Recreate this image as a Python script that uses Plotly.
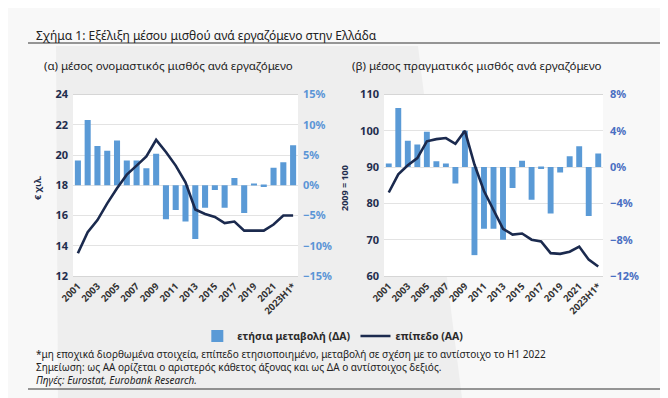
import plotly.graph_objects as go

W, H = 668, 398

categories = ["2001", "2002", "2003", "2004", "2005", "2006", "2007", "2008", "2009", "2010",
              "2011", "2012", "2013", "2014", "2015", "2016", "2017", "2018", "2019", "2020",
              "2021", "2022", "2023H1*"]
tick_labels = ["2001", "2003", "2005", "2007", "2009", "2011", "2013", "2015", "2017", "2019",
               "2021", "2023H1*"]

# (a) nominal wage: level (thousand EUR, left axis) and annual change (%, right axis)
nominal_level = [13.5, 14.9, 15.7, 16.8, 17.8, 18.7, 19.3, 19.9, 21.0, 20.2, 19.3, 18.2,
                 16.4, 16.1, 15.9, 15.5, 15.6, 15.0, 15.0, 15.0, 15.4, 16.0, 16.0]
nominal_change = [4.1, 10.8, 6.5, 5.7, 7.4, 4.1, 4.1, 2.8, 5.2, -5.6, -4.1, -6.0,
                  -8.9, -3.7, -0.8, -3.7, 1.2, -4.6, 0.3, -0.3, 2.9, 3.8, 6.6]

# (b) real wage: index 2009=100 (left axis) and annual change (%, right axis)
real_level = [83.0, 88.0, 90.5, 92.5, 97.1, 97.7, 98.0, 96.4, 100.0, 90.7, 83.4, 78.4,
              73.0, 71.4, 71.7, 70.0, 69.5, 66.3, 66.1, 66.7, 68.1, 64.5, 62.6]
real_change = [0.4, 6.5, 2.9, 2.5, 3.9, 0.65, 0.4, -1.8, 4.0, -9.7, -6.8, -6.8,
               -8.0, -2.3, 0.7, -3.6, -0.2, -5.1, -0.6, 1.2, 2.3, -5.4, 1.5]

BAR = "#5a9ad6"
LINE = "#1b2a4e"
NAVY = "#1f2d4d"
FONT = "Noto Sans"

def px(x):
    return x / W

def py(y):
    return 1 - y / H

# plot-area domains (pixels)
L_X = (65, 290)
R_X = (376, 595)
Y_DOM = (86.5, 268)

fig = go.Figure()

fig.add_trace(go.Bar(x=categories, y=nominal_change, xaxis="x", yaxis="y",
                     marker=dict(color=BAR, line=dict(width=0)),
                     name="ετήσια μεταβολή (ΔΑ)", showlegend=True))
fig.add_trace(go.Scatter(x=categories, y=nominal_level, xaxis="x", yaxis="y2",
                         mode="lines", line=dict(color=LINE, width=2.6),
                         name="επίπεδο (ΑΑ)", showlegend=True))
fig.add_trace(go.Bar(x=categories, y=real_change, xaxis="x2", yaxis="y3",
                     marker=dict(color=BAR, line=dict(width=0)),
                     name="ετήσια μεταβολή (ΔΑ)", showlegend=False))
fig.add_trace(go.Scatter(x=categories, y=real_level, xaxis="x2", yaxis="y4",
                         mode="lines", line=dict(color=LINE, width=2.6),
                         name="επίπεδο (ΑΑ)", showlegend=False))

xcommon = dict(type="category", categoryorder="array", categoryarray=categories,
               range=[-0.5, len(categories) - 0.5],
               tickmode="array", tickvals=tick_labels, ticktext=tick_labels,
               tickangle=-45, tickfont=dict(family=FONT, size=9.5, color="#333333", weight="bold"),
               showline=True, linecolor="#d6d6d6", linewidth=1, mirror=True,
               ticks="", showgrid=False, zeroline=False, fixedrange=True, automargin=False)

yd = [py(Y_DOM[1]), py(Y_DOM[0])]

fig.update_layout(
    width=W, height=H,
    margin=dict(l=0, r=0, t=0, b=0, pad=0, autoexpand=False),
    paper_bgcolor="#f8f8f8",
    plot_bgcolor="rgba(0,0,0,0)",
    font=dict(family=FONT, color=NAVY),
    bargap=0.38,
    showlegend=True,
    legend=dict(orientation="h", x=0.487, xanchor="center", y=py(328), yanchor="middle",
                font=dict(family=FONT, size=10.5, color="#2a2a2a", weight="bold"),
                bgcolor="rgba(0,0,0,0)", itemwidth=30, tracegroupgap=0),
    xaxis=dict(domain=[px(L_X[0]), px(L_X[1])], anchor="y", **xcommon),
    xaxis2=dict(domain=[px(R_X[0]), px(R_X[1])], anchor="y3", **xcommon),
    yaxis=dict(domain=yd, anchor="x", side="right", range=[-15, 15], dtick=5,
               tickmode="linear", tick0=-15, ticksuffix="%", showgrid=False, zeroline=False,
               tickfont=dict(family=FONT, size=11, color="#5b95d6", weight="bold"),
               ticklabelstandoff=4, fixedrange=True, automargin=False),
    yaxis2=dict(overlaying="y", anchor="x", side="left", range=[12, 24], dtick=2,
                tickmode="linear", tick0=12, showgrid=True, gridcolor="#e3e3e3",
                gridwidth=1, zeroline=False,
                tickfont=dict(family=FONT, size=11, color=NAVY, weight="bold"),
                ticklabelstandoff=4, fixedrange=True, automargin=False),
    yaxis3=dict(domain=yd, anchor="x2", side="right", range=[-12, 8], dtick=4,
                tickmode="linear", tick0=-12, ticksuffix="%", showgrid=False, zeroline=False,
                tickfont=dict(family=FONT, size=11, color="#4a6fc2", weight="bold"),
                ticklabelstandoff=6, fixedrange=True, automargin=False),
    yaxis4=dict(overlaying="y3", anchor="x2", side="left", range=[60, 110], dtick=10,
                tickmode="linear", tick0=60, showgrid=True, gridcolor="#e3e3e3",
                gridwidth=1, zeroline=False,
                tickfont=dict(family=FONT, size=11, color=NAVY, weight="bold"),
                ticklabelstandoff=4, fixedrange=True, automargin=False),
)

shapes = [
    # grey background band
    dict(type="path", xref="paper", yref="paper", layer="below", line=dict(width=0),
         fillcolor="#eeeeee",
         path=f"M {px(48)},{py(38)} L {px(410)},{py(38)} L {px(455)},{py(398)} L {px(50)},{py(398)} Z"),
    # white plot areas
    dict(type="rect", xref="paper", yref="paper", layer="below", line=dict(width=0),
         fillcolor="white", x0=px(L_X[0]), x1=px(L_X[1]), y0=yd[0], y1=yd[1]),
    dict(type="rect", xref="paper", yref="paper", layer="below", line=dict(width=0),
         fillcolor="white", x0=px(R_X[0]), x1=px(R_X[1]), y0=yd[0], y1=yd[1]),
    # title underline and bottom rule
    dict(type="line", xref="paper", yref="paper", x0=px(20), x1=1, y0=py(35), y1=py(35),
         line=dict(color="#333333", width=1)),
    dict(type="line", xref="paper", yref="paper", x0=px(20), x1=1, y0=py(381), y1=py(381),
         line=dict(color="#333333", width=1)),
]
fig.update_layout(shapes=shapes)

ann = []
ann.append(dict(text="Σχήμα 1: Εξέλιξη μέσου μισθού ανά εργαζόμενο στην Ελλάδα",
                x=px(26), y=py(28), xanchor="left", yanchor="middle",
                font=dict(size=12, color="#222222")))
ann.append(dict(text="(α) μέσος ονομαστικός μισθός ανά εργαζόμενο",
                x=px(34), y=py(58), xanchor="left", yanchor="middle",
                font=dict(size=11.5, color="#222222")))
ann.append(dict(text="(β) μέσος πραγματικός μισθός ανά εργαζόμενο",
                x=px(342), y=py(58), xanchor="left", yanchor="middle",
                font=dict(size=11.5, color="#222222")))
ann.append(dict(text="<b>€ χιλ.</b>", x=px(30), y=py(180), textangle=-90,
                xanchor="center", yanchor="middle", font=dict(size=9, color=NAVY)))
ann.append(dict(text="<b>2009 = 100</b>", x=px(337), y=py(180), textangle=-90,
                xanchor="center", yanchor="middle", font=dict(size=9, color=NAVY)))
notes_text = ("*μη εποχικά διορθωμένα στοιχεία, επίπεδο ετησιοποιημένο, μεταβολή σε σχέση με το αντίστοιχο το H1 2022"
              "<br>Σημείωση: ως ΑΑ ορίζεται ο αριστερός κάθετος άξονας και ως ΔΑ ο αντίστοιχος δεξιός."
              "<br><i>Πηγές: Eurostat, Eurobank Research.</i>")
ann.append(dict(text=notes_text, x=px(26), y=py(359), xanchor="left", yanchor="middle",
                align="left", font=dict(size=10, color="#222222")))
for a in ann:
    a.update(xref="paper", yref="paper", showarrow=False)
fig.update_layout(annotations=ann)

fig.write_html("out.html")
